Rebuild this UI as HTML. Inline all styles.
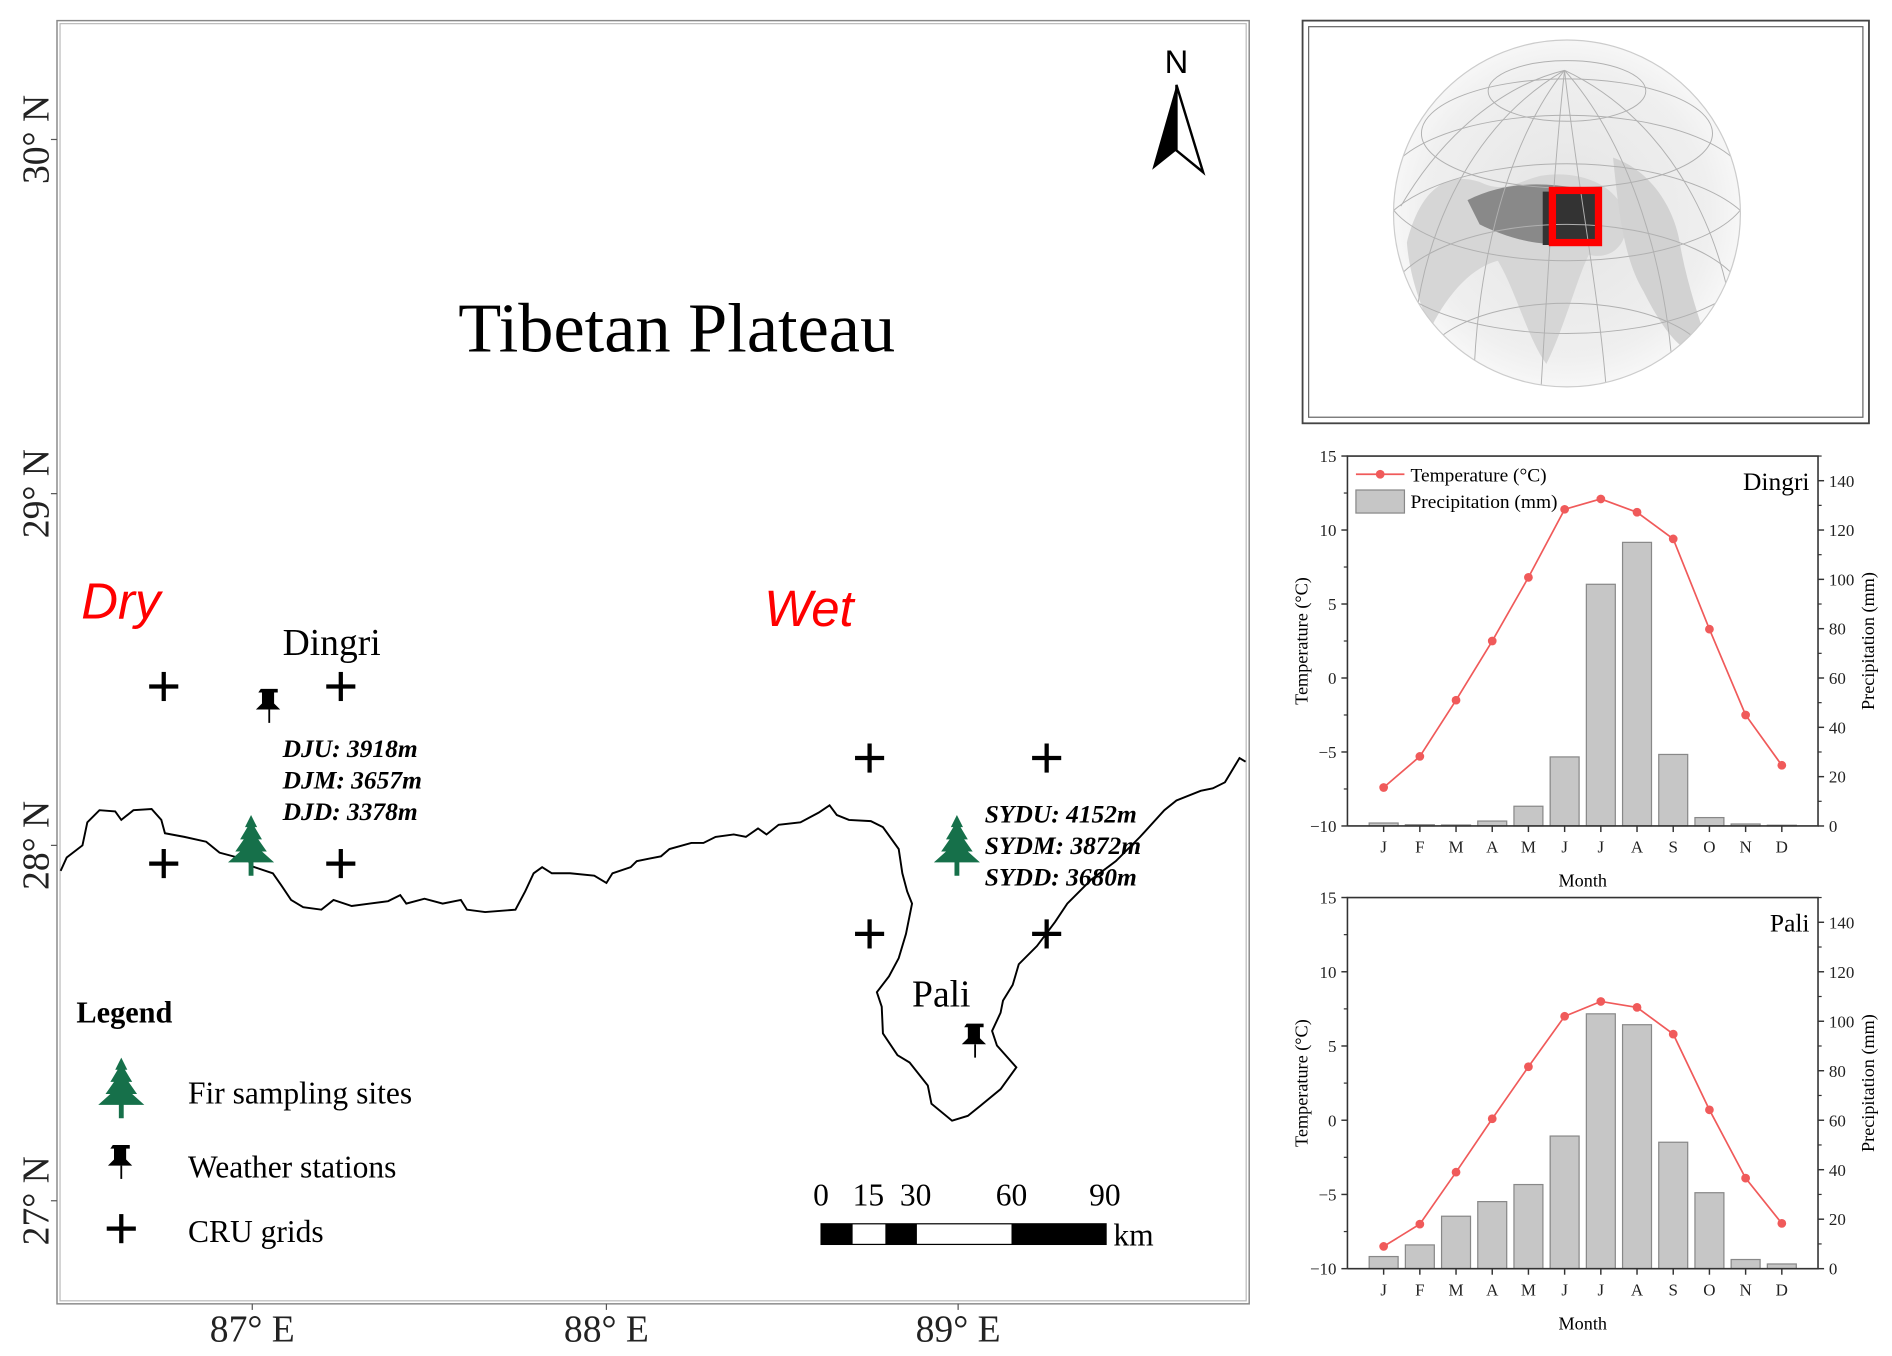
<!DOCTYPE html>
<html><head><meta charset="utf-8"><style>
html,body{margin:0;padding:0;background:#fff;}
svg{display:block;}
.serif{font-family:"Liberation Serif",serif;}
.sans{font-family:"Liberation Sans",sans-serif;}
</style></head><body>
<svg id="fig" class="serif" width="1892" height="1356" viewBox="0 0 1560 1118" preserveAspectRatio="none" xmlns="http://www.w3.org/2000/svg" font-family="Liberation Serif, serif">
<defs>
  <g id="tree"><polygon fill="#16704a" points="0,-25 5,-15 3,-15 9,-5 6,-5 13,5 9,5 19,14 2,14 2,25 -2,25 -2,14 -19,14 -9,5 -13,5 -6,-5 -9,-5 -3,-15 -5,-15"/></g>
  <g id="pin"><path fill="#000" d="M-7,-14 h14 v3 h-3 v9 l5,5 h-20 l5,-5 v-9 h-3z"/><line x1="0" y1="3" x2="0" y2="14" stroke="#000" stroke-width="1.5"/></g>
  <g id="cross"><line x1="-12" y1="0" x2="12" y2="0" stroke="#000" stroke-width="3.5"/><line x1="0" y1="-12" x2="0" y2="12" stroke="#000" stroke-width="3.5"/></g>
  <radialGradient id="gg" cx="0.5" cy="0.5" r="0.55"><stop offset="0" stop-color="#e4e4e4"/><stop offset="0.75" stop-color="#efefef"/><stop offset="1" stop-color="#fbfbfb"/></radialGradient>
  <clipPath id="gclip"><circle cx="1292" cy="176" r="143"/></clipPath>
</defs>

<!-- MAP -->
<g>
  <rect x="47" y="17" width="983" height="1058" fill="none" stroke="#888" stroke-width="1.2"/>
  <rect x="49.5" y="19.5" width="978" height="1053" fill="none" stroke="#bbb" stroke-width="1"/>
  <g font-size="31" fill="#222">
    <text transform="translate(40,115) rotate(-90)" text-anchor="middle">30° N</text>
    <text transform="translate(40,407) rotate(-90)" text-anchor="middle">29° N</text>
    <text transform="translate(40,697) rotate(-90)" text-anchor="middle">28° N</text>
    <text transform="translate(40,990) rotate(-90)" text-anchor="middle">27° N</text>
  </g>
  <g stroke="#555" stroke-width="1">
    <line x1="42" y1="115" x2="47" y2="115"/><line x1="42" y1="407" x2="47" y2="407"/><line x1="42" y1="697" x2="47" y2="697"/><line x1="42" y1="990" x2="47" y2="990"/>
    <line x1="208" y1="1075" x2="208" y2="1080"/><line x1="500" y1="1075" x2="500" y2="1080"/><line x1="790" y1="1075" x2="790" y2="1080"/>
  </g>
  <g font-size="31" fill="#222" text-anchor="middle">
    <text x="208" y="1106">87° E</text>
    <text x="500" y="1106">88° E</text>
    <text x="790" y="1106">89° E</text>
  </g>
  <text x="558" y="290" font-size="58" text-anchor="middle" fill="#000">Tibetan Plateau</text>
  <g>
    <text x="970" y="60" font-size="27" text-anchor="middle" class="sans" style="font-family:'Liberation Sans',sans-serif">N</text>
    <polygon points="970,70 950,140 970,124" fill="#000"/>
    <polygon points="970,70 992,142 970,124" fill="#fff" stroke="#000" stroke-width="2"/>
  </g>
  <text x="67" y="510" font-size="42" font-style="italic" fill="#ff0000" style="font-family:'Liberation Sans',sans-serif">Dry</text>
  <text x="630" y="516" font-size="42" font-style="italic" fill="#ff0000" style="font-family:'Liberation Sans',sans-serif">Wet</text>
  <polyline fill="none" stroke="#000" stroke-width="1.6" points="50,718 55,707 68,697 72,678 82,668 95,669 100,676 110,668 125,667 133,676 136,687 152,690 170,694 181,703 196,707 202,703 207,714 225,720 232,730 240,742 250,748 265,750 275,742 290,747 305,745 320,743 330,738 335,745 350,741 365,745 380,742 385,750 400,752 425,750 433,735 440,720 447,715 455,720 470,720 490,722 500,728 505,720 520,715 525,710 535,708 545,706 552,700 570,695 580,695 590,690 605,688 615,690 625,683 632,688 642,680 660,678 675,670 684,664 690,672 700,676 718,677 728,682 741,700 744,720 748,735 752,745 747,770 741,790 733,805 723,818 727,830 728,852 740,870 750,876 765,895 768,910 785,924 798,920 808,912 825,898 838,880 822,862 818,850 825,835 827,825 835,812 840,795 855,780 870,760 880,745 900,725 920,710 940,690 960,668 970,660 990,652 1000,650 1010,645 1022,625 1027,628"/>
  <g>
    <use href="#cross" x="135" y="566"/><use href="#cross" x="281" y="566"/>
    <use href="#cross" x="135" y="712"/><use href="#cross" x="281" y="712"/>
    <use href="#cross" x="717" y="625"/><use href="#cross" x="863" y="625"/>
    <use href="#cross" x="717" y="770"/><use href="#cross" x="863" y="770"/>
  </g>
  <use href="#pin" x="222" y="582"/>
  <use href="#pin" x="804" y="858"/>
  <use href="#tree" x="207" y="697"/>
  <use href="#tree" x="789" y="697"/>
  <text x="233" y="540" font-size="31">Dingri</text>
  <text x="752" y="830" font-size="31">Pali</text>
  <g font-size="21" font-weight="bold" font-style="italic">
    <text x="233" y="624">DJU:  3918m</text>
    <text x="233" y="650">DJM: 3657m</text>
    <text x="233" y="676">DJD: 3378m</text>
  </g>
  <g font-size="21" font-weight="bold" font-style="italic">
    <text x="812" y="678">SYDU:  4152m</text>
    <text x="812" y="704">SYDM: 3872m</text>
    <text x="812" y="730">SYDD: 3680m</text>
  </g>
  <g>
    <text x="63" y="843" font-size="25" font-weight="bold">Legend</text>
    <use href="#tree" x="100" y="897"/>
    <text x="155" y="910" font-size="26">Fir sampling sites</text>
    <use href="#pin" x="100" y="958"/>
    <text x="155" y="971" font-size="26">Weather stations</text>
    <use href="#cross" x="100" y="1013"/>
    <text x="155" y="1024" font-size="26">CRU grids</text>
  </g>
  <g>
    <g font-size="26" text-anchor="middle">
      <text x="677" y="994">0</text><text x="716" y="994">15</text><text x="755" y="994">30</text><text x="834" y="994">60</text><text x="911" y="994">90</text>
    </g>
    <rect x="677" y="1009" width="235" height="17" fill="#fff" stroke="#000" stroke-width="1"/>
    <rect x="677" y="1009" width="26" height="17" fill="#000"/>
    <rect x="730" y="1009" width="26" height="17" fill="#000"/>
    <rect x="834" y="1009" width="78" height="17" fill="#000"/>
    <text x="918" y="1027" font-size="26">km</text>
  </g>
</g>

<!-- GLOBE INSET -->
<g>
  <rect x="1074" y="17" width="467" height="332" fill="#fff" stroke="#444" stroke-width="1.5"/>
  <rect x="1079" y="22" width="457" height="322" fill="none" stroke="#666" stroke-width="1"/>
  <circle cx="1292" cy="176" r="143" fill="url(#gg)"/>
  <g clip-path="url(#gclip)">
    <path d="M1160,200 C1170,160 1190,140 1220,150 C1240,160 1250,150 1270,145 C1300,140 1330,150 1340,175 C1345,200 1330,215 1310,210 C1300,230 1290,270 1275,300 C1260,280 1250,240 1235,215 C1215,220 1195,240 1180,270 C1170,250 1162,225 1160,200Z" fill="#d6d6d6"/>
    <path d="M1330,130 C1360,140 1380,170 1385,200 C1390,230 1400,260 1410,290 C1390,300 1370,270 1355,240 C1340,215 1335,180 1330,130Z" fill="#d2d2d2"/>
    <path d="M1210,165 C1240,150 1270,150 1300,155 C1320,165 1325,195 1300,200 C1270,205 1240,195 1220,185Z" fill="#555" opacity="0.6"/>
    <path d="M1272,158 L1318,158 L1318,202 L1272,202Z" fill="#333"/>
    <g fill="none" stroke="#b0b0b0" stroke-width="0.8">
      <ellipse cx="1292" cy="75" rx="65" ry="25"/>
      <ellipse cx="1292" cy="110" rx="120" ry="45"/>
      <ellipse cx="1292" cy="155" rx="150" ry="60"/>
      <ellipse cx="1292" cy="205" rx="160" ry="70"/>
      <ellipse cx="1292" cy="255" rx="150" ry="70"/>
      <ellipse cx="1292" cy="305" rx="120" ry="55"/>
      <path d="M1290,58 C1280,150 1275,250 1270,330"/>
      <path d="M1290,58 C1240,120 1215,230 1215,330"/>
      <path d="M1290,58 C1200,110 1165,220 1165,300"/>
      <path d="M1290,58 C1300,150 1320,250 1325,330"/>
      <path d="M1290,58 C1345,120 1375,220 1380,320"/>
      <path d="M1290,58 C1380,100 1425,200 1430,280"/>
      <path d="M1290,58 C1240,70 1190,110 1155,170"/>
    </g>
  </g>
  <circle cx="1292" cy="176" r="143" fill="none" stroke="#ccc" stroke-width="1"/>
  <rect x="1280" y="157" width="38" height="43" fill="none" stroke="#ff0000" stroke-width="6"/>
</g>

<g id="charts"></g>
</svg>
<script>
const months = ['J','F','M','A','M','J','J','A','S','O','N','D'];
const dingriTemp = [-7.4,-5.3,-1.5,2.5,6.8,11.4,12.1,11.2,9.4,3.3,-2.5,-5.9];
const dingriPrecip = [1.2,0.5,0.4,2,8,28,98,115,29,3.4,0.8,0.3];
const paliTemp = [-8.5,-7.0,-3.5,0.1,3.6,7.0,8.0,7.6,5.8,0.7,-3.9,-6.95];
const paliPrecip = [4.9,9.6,21.2,27.1,34,53.6,103,98.6,51.1,30.7,3.7,1.9];
const tempTicks = [-10,-5,0,5,10,15];
const precipTicks = [0,20,40,60,80,100,120,140];

const NS='http://www.w3.org/2000/svg';
const root=document.getElementById('charts');
function mk(tag,attrs,parent){const e=document.createElementNS(NS,tag);for(const k in attrs)e.setAttribute(k,attrs[k]);parent.appendChild(e);return e;}

function drawChart(name,top,bottom,temps,precs,showLegend){
  const L=1111,R=1499;
  const g=mk('g',{},root);
  
  
  const x=i=>L+(i+1)*(R-L)/13;
  const yT=v=>bottom-(v-tempTicks[0])/(tempTicks[tempTicks.length-1]-tempTicks[0])*(bottom-top);
  const yP=v=>bottom-v/150*(bottom-top);
  const bw=0.8*(R-L)/13;
  precs.forEach((p,i)=>{
    const b=mk('rect',{x:x(i)-bw/2,y:yP(p),width:bw,height:bottom-yP(p),fill:'#c6c6c6',stroke:'#888','stroke-width':1},g);
    
    
  });
  const pts=temps.map((t,i)=>x(i)+','+yT(t)).join(' ');
  const ln=mk('polyline',{points:pts,fill:'none',stroke:'#f05a5a','stroke-width':1.4},g);
  
  
  temps.forEach((t,i)=>{
    const c=mk('circle',{cx:x(i),cy:yT(t),r:3.6,fill:'#f05a5a'},g);
    
    
  });
  mk('path',{d:`M${L},${bottom} V${top} H${R} V${bottom} H${L}`,fill:'none',stroke:'#333','stroke-width':1.3},g);
  tempTicks.forEach((t,k)=>{
    mk('line',{x1:L-5,y1:yT(t),x2:L,y2:yT(t),stroke:'#333','stroke-width':1.2},g);
    if(k<tempTicks.length-1) mk('line',{x1:L-3,y1:yT(t+2.5),x2:L,y2:yT(t+2.5),stroke:'#333','stroke-width':1},g);
    const tx=mk('text',{x:L-9,y:yT(t)+5,'font-size':14,'text-anchor':'end',fill:'#222'},g);
    tx.textContent=(t<0?'\u2212'+(-t):t);
    
    
  });
  precipTicks.forEach(p=>{
    mk('line',{x1:R,y1:yP(p),x2:R+5,y2:yP(p),stroke:'#333','stroke-width':1.2},g);
    mk('line',{x1:R,y1:yP(p+10),x2:R+3,y2:yP(p+10),stroke:'#333','stroke-width':1},g);
    const tx=mk('text',{x:R+9,y:yP(p)+5,'font-size':14,fill:'#222'},g);
    tx.textContent=p;
    
    
  });
  months.forEach((m,i)=>{
    mk('line',{x1:x(i),y1:bottom,x2:x(i),y2:bottom+5,stroke:'#333','stroke-width':1.2},g);
    const tx=mk('text',{x:x(i),y:bottom+22,'font-size':14,'text-anchor':'middle',fill:'#222'},g);
    tx.textContent=m;
    
    
  });
  const xt=mk('text',{x:(L+R)/2,y:bottom+50,'font-size':15,'text-anchor':'middle'},g);
  xt.textContent='Month';
  
  
  const cy=(top+bottom)/2;
  const yt=mk('text',{transform:`translate(1078,${cy}) rotate(-90)`,'font-size':15,'text-anchor':'middle'},g);
  yt.textContent='Temperature (°C)';
  
  
  const yr=mk('text',{transform:`translate(1545,${cy}) rotate(-90)`,'font-size':15,'text-anchor':'middle'},g);
  yr.textContent='Precipitation (mm)';
  
  
  const st=mk('text',{x:R-7,y:top+28,'font-size':21,'text-anchor':'end'},g);
  st.textContent=name==='dingri'?'Dingri':'Pali';
  
  
  if(showLegend){
    const lg=mk('g',{},g);
    
    
    mk('line',{x1:1118,y1:top+15,x2:1158,y2:top+15,stroke:'#f05a5a','stroke-width':1.4},lg);
    mk('circle',{cx:1138,cy:top+15,r:3.6,fill:'#f05a5a'},lg);
    const t1=mk('text',{x:1163,y:top+21,'font-size':16},lg);
    t1.textContent='Temperature (°C)';
    mk('rect',{x:1118,y:top+28,width:40,height:19,fill:'#c6c6c6',stroke:'#888','stroke-width':1},lg);
    const t2=mk('text',{x:1163,y:top+43,'font-size':16},lg);
    t2.textContent='Precipitation (mm)';
  }
}
drawChart('dingri',376,681,dingriTemp,dingriPrecip,true);
drawChart('pali',740,1046,paliTemp,paliPrecip,false);
</script>
</body></html>
